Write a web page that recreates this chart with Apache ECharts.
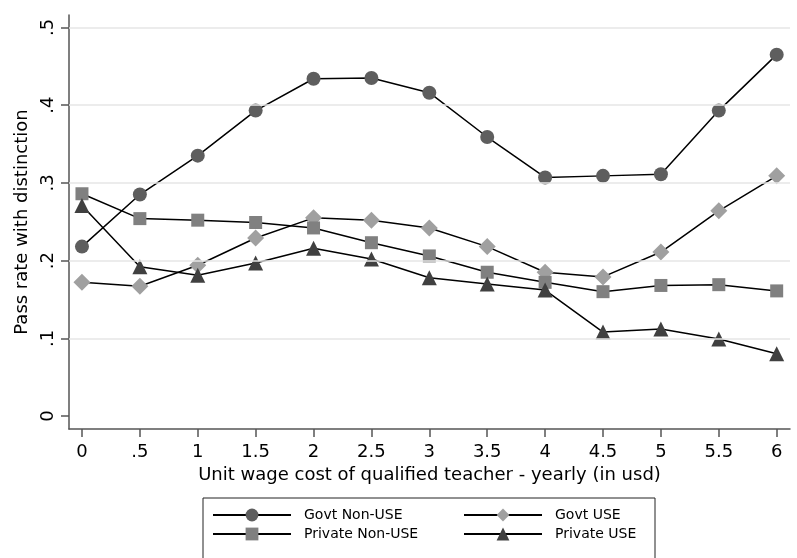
<!DOCTYPE html>
<html>
<head>
<meta charset="utf-8">
<script src="https://cdn.jsdelivr.net/npm/echarts@6/dist/echarts.min.js"></script>
<style>html,body{margin:0;padding:0;background:#fff;}#c{width:797px;height:558px;}</style>
</head>
<body>
<div id="c"></div>
<script>
const xValues = [0, 0.5, 1, 1.5, 2, 2.5, 3, 3.5, 4, 4.5, 5, 5.5, 6];
const govtNonUse = [0.218, 0.285, 0.335, 0.393, 0.434, 0.435, 0.416, 0.359, 0.307, 0.309, 0.311, 0.393, 0.465];
const govtUse = [0.172, 0.167, 0.194, 0.229, 0.255, 0.252, 0.242, 0.218, 0.185, 0.179, 0.211, 0.264, 0.309];
const privateNonUse = [0.286, 0.254, 0.252, 0.249, 0.242, 0.223, 0.206, 0.185, 0.172, 0.160, 0.168, 0.169, 0.161];
const privateUse = [0.271, 0.192, 0.181, 0.197, 0.216, 0.202, 0.178, 0.170, 0.162, 0.108, 0.112, 0.099, 0.080];
const xTicks = [0, 0.5, 1, 1.5, 2, 2.5, 3, 3.5, 4, 4.5, 5, 5.5, 6];
const yTicks = [0, 0.1, 0.2, 0.3, 0.4, 0.5];
const yGrid = [0.1, 0.2, 0.3, 0.4, 0.5];

function fmt(v) {
  let s = String(Math.round(v * 10) / 10);
  if (s.startsWith('0.')) s = s.slice(1);
  return s;
}
function pairs(arr) { return xValues.map((x, i) => [x, arr[i]]); }

const FONT = 'DejaVu Sans';
const chart = echarts.init(document.getElementById('c'), null, {renderer: 'canvas'});
const axisColor = '#555555';

const seriesDefs = [
  {name: 'Govt Non-USE', data: govtNonUse, symbol: 'circle', size: 14, color: '#5e5e5e'},
  {name: 'Govt USE', data: govtUse, symbol: 'diamond', size: 17, color: '#a0a0a0'},
  {name: 'Private Non-USE', data: privateNonUse, symbol: 'rect', size: 13, color: '#808080'},
  {name: 'Private USE', data: privateUse, symbol: 'triangle', size: 15, color: '#404040'}
];

const legendPos = [
  {left: 212, top: 508},
  {left: 463, top: 508},
  {left: 212, top: 527},
  {left: 463, top: 527}
];

const option = {
  backgroundColor: '#ffffff',
  animation: false,
  textStyle: {fontFamily: FONT},
  grid: {left: 69, top: 15, right: 7, bottom: 129, containLabel: false},
  xAxis: {
    type: 'value', min: -0.112, max: 6.115,
    name: 'Unit wage cost of qualified teacher - yearly (in usd)',
    nameLocation: 'middle', nameGap: 33,
    nameTextStyle: {fontSize: 18, color: '#000', fontFamily: FONT},
    axisLine: {show: true, onZero: false, lineStyle: {color: axisColor, width: 1.5}},
    axisTick: {show: true, length: 8, customValues: xTicks, lineStyle: {color: axisColor, width: 1.5}},
    axisLabel: {customValues: xTicks, formatter: fmt, fontSize: 18, color: '#000', margin: 14, fontFamily: FONT},
    splitLine: {show: false}
  },
  yAxis: {
    type: 'value', min: -0.0167, max: 0.516,
    name: 'Pass rate with distinction',
    nameLocation: 'middle', nameGap: 38,
    nameTextStyle: {fontSize: 18, color: '#000', fontFamily: FONT},
    axisLine: {show: true, onZero: false, lineStyle: {color: axisColor, width: 1.5}},
    axisTick: {show: true, length: 8, customValues: yTicks, lineStyle: {color: axisColor, width: 1.5}},
    axisLabel: {customValues: yTicks, formatter: fmt, fontSize: 18, color: '#000', margin: 12, rotate: 90, fontFamily: FONT},
    splitLine: {show: false}
  },
  legend: seriesDefs.map((s, i) => ({
    data: [s.name], left: legendPos[i].left, top: legendPos[i].top,
    padding: 0, itemWidth: 78, itemHeight: 16,
    textStyle: {fontSize: 14, color: '#000', fontFamily: FONT, padding: [0, 0, 0, 8]},
    selectedMode: false
  })),
  graphic: [{
    type: 'rect', shape: {x: 203, y: 498, width: 452, height: 80},
    style: {fill: 'none', stroke: '#222', lineWidth: 1}, silent: true
  }],
  series: [
    {
      type: 'line', name: '_grid', data: [], z: 1, silent: true,
      markLine: {
        silent: true, symbol: 'none', animation: false,
        label: {show: false},
        lineStyle: {color: '#e6e6e6', width: 1.5, type: 'solid'},
        data: yGrid.map(v => ({yAxis: v}))
      }
    }
  ].concat(seriesDefs.map(s => ({
    type: 'line', name: s.name, data: pairs(s.data), z: 3,
    symbol: s.symbol, symbolSize: s.size,
    itemStyle: {color: s.color},
    lineStyle: {color: '#000', width: 1.5},
    emphasis: {disabled: true}
  })))
};
chart.setOption(option);
</script>
</body>
</html>
